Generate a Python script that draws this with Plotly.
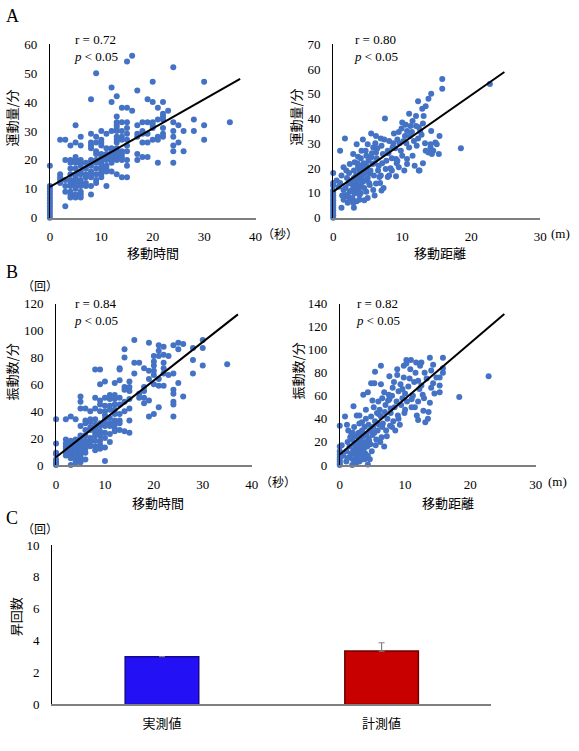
import plotly.graph_objects as go

W, H = 579, 751

# ---------------- DATA ----------------
# A left: movement time (s) vs exercise amount / min
a1_time = ([0]*13 + [2]*5 + [3]*6 + [4]*11 + [5]*14 + [6]*13 + [7]*6 + [8]*13 + [9]*11 + [10]*13
           + [11]*9 + [12]*10 + [13]*15 + [14]*10 + [15]*11 + [16]*2 + [17]*6 + [18]*5 + [19]*5
           + [20]*6 + [21]*5 + [22]*7 + [23]*1 + [24]*7 + [25]*2 + [26]*2 + [28]*2 + [30]*3 + [35]*1)
a1_amount = ([0, 1, 2, 3, 4, 5, 6, 7, 8, 9, 10, 11, 18]
             + [27, 15, 14, 13, 12]
             + [27, 20, 13, 11, 9, 4]
             + [25, 20, 19, 17, 15, 13, 12, 11, 9, 8, 7]
             + [32, 26, 21, 20, 19, 17, 15, 14, 13, 12, 11, 10, 8, 7]
             + [28, 25, 20, 19, 18, 16, 15, 13, 12, 11, 9, 8, 7]
             + [19, 17, 15, 14, 12, 11]
             + [41, 29, 26, 25, 24, 20, 19, 18, 16, 15, 14, 11, 8]
             + [50, 28, 26, 23, 22, 20, 19, 17, 15, 13, 12]
             + [30, 27, 26, 25, 22, 21, 20, 19, 18, 17, 16, 15, 14]
             + [29, 24, 22, 21, 20, 18, 17, 16, 11]
             + [45, 40, 30, 24, 23, 22, 21, 20, 19, 16]
             + [42, 35, 33, 32, 31, 30, 28, 27, 26, 24, 23, 22, 21, 20, 15]
             + [38, 33, 30, 28, 27, 23, 22, 21, 20, 14]
             + [54, 38, 33, 31, 29, 27, 25, 23, 20, 18, 14]
             + [56, 37]
             + [44, 32, 29, 28, 22, 20]
             + [33, 30, 29, 26, 21]
             + [41, 33, 29, 26, 21]
             + [47, 40, 33, 32, 31, 27]
             + [38, 34, 28, 27, 19]
             + [40, 36, 35, 34, 31, 29, 28]
             + [37]
             + [52, 33, 30, 28, 25, 23, 19]
             + [26, 32]
             + [30, 23]
             + [34, 30]
             + [47, 32, 27]
             + [33])
a1_trend_x = [0, 37]
a1_trend_y = [10.7, 48]

# A right: movement distance (m) vs exercise amount / min
a2_points = [
    (0, 0), (0, 1), (0, 2), (0, 3), (0, 4), (0, 5), (0, 6), (0, 7), (0, 8), (0, 9), (0, 10), (0, 11),
    (0, 13), (0, 14), (0, 18),
    (0.5, 15), (0.8, 12.5), (1.0, 27), (1.2, 4), (1.2, 17), (1.5, 7.2), (1.5, 11.2), (1.5, 20.4),
    (1.7, 32), (1.9, 9.2), (1.9, 19), (2.2, 8.5), (2.2, 13.8), (2.4, 7.2), (2.4, 10.5), (2.4, 21.7),
    (2.7, 15), (2.9, 5.9), (2.9, 12.5), (2.9, 25.7), (3.1, 9.9), (3.1, 22.4), (3.4, 6.6), (3.4, 13.8),
    (3.4, 29.6), (3.6, 11.2), (3.6, 20.4), (3.6, 24.6), (3.8, 7.2), (3.8, 9.2), (3.8, 18.4),
    (4.1, 12.5), (4.1, 27), (4.3, 14.5), (4.3, 19.7), (4.3, 31.6), (4.8, 10.5), (4.8, 21), (4.8, 25),
    (5.0, 29.6), (5.3, 13.2), (5.3, 17.8), (5.5, 24.3), (5.5, 34), (5.7, 21.7), (5.8, 11.2),
    (5.8, 28.3), (6.2, 13.8), (6.2, 26.3), (6.2, 33), (6.5, 19), (6.7, 16.4), (6.9, 17), (6.9, 32),
    (7.2, 25.7), (7.4, 31.6), (7.5, 40), (7.6, 19.7), (7.9, 16.4), (7.9, 27), (8.1, 17), (8.1, 31),
    (8.6, 28.3), (8.8, 34), (9.1, 16.7), (9.1, 23.7), (9.3, 31.6), (9.5, 20.4), (9.5, 34.6),
    (9.9, 36), (10.0, 25), (10.0, 38.4), (10.3, 19), (10.4, 33), (10.5, 37.5), (10.7, 21.7),
    (10.7, 23.7), (10.7, 35), (11.0, 28.3), (11.0, 42), (11.2, 37), (11.4, 34.6), (12.0, 37),
    (12.0, 41), (12.3, 32), (12.3, 47), (12.4, 19), (12.4, 36.5), (12.8, 33.5), (12.9, 44),
    (13.1, 41), (13.3, 30), (13.4, 27), (13.4, 45), (13.8, 26.3), (13.8, 48), (14.1, 28.3),
    (14.1, 29.6), (14.2, 50), (14.5, 27), (14.8, 30.3), (15.0, 29.6), (15.3, 25.7), (15.4, 33),
    (15.8, 52), (15.8, 56), (18.5, 28), (22.7, 54),
    (1.0, 14), (1.3, 9), (1.8, 12), (2.0, 16), (2.1, 6), (2.3, 18), (2.6, 11), (2.6, 14), (2.8, 8),
    (3.0, 16), (3.0, 19), (3.2, 12), (3.3, 17), (3.5, 15), (3.5, 22), (3.7, 13), (3.9, 16),
    (3.9, 21), (4.0, 10), (4.0, 24), (4.2, 17), (4.4, 22), (4.5, 12), (4.5, 15), (4.6, 18),
    (4.7, 27), (4.9, 20), (5.0, 16), (5.1, 23), (5.2, 14), (5.4, 19), (5.6, 26), (5.9, 17),
    (6.0, 22), (6.1, 30), (6.3, 24), (6.4, 28), (6.6, 21), (6.8, 14), (7.0, 29), (7.1, 22),
    (7.3, 12), (7.7, 23), (8.0, 26), (8.3, 20), (8.5, 24), (8.7, 30), (9.0, 28), (9.2, 22),
    (9.6, 30), (9.8, 27), (10.2, 31), (10.6, 30), (11.1, 33), (11.5, 25), (11.7, 31), (12.1, 29),
    (12.6, 35), (13.0, 38), (7.0, 11), (5.0, 8), (4.5, 7), (3.0, 4), (6.0, 9), (8.5, 19),
    (11.8, 21), (13.0, 22), (14.2, 35), (12.5, 19), (9.3, 23), (14.3, 25.7), (11.5, 39),
]
a2_trend_x = [0, 24.8]
a2_trend_y = [10.5, 58.8]

# B left: movement time (s) vs vibration count / min
b1_columns = [
    (0, [0, 1, 2, 4, 8, 9, 16, 34]),
    (2, [34, 19, 16, 14, 12, 9, 7]),
    (3, [36, 18, 16, 14, 12, 10, 7, 5, 0]),
    (4, [34, 19, 17, 15, 13, 11, 9, 6, 3, 1]),
    (5, [51, 47, 42, 29, 22, 20, 18, 16, 14, 12, 10, 8, 6, 4, 2]),
    (6, [42, 33, 31, 26, 22, 18, 15, 12, 9, 4]),
    (7, [40, 34, 32, 28, 26, 20, 17, 14]),
    (8, [71, 50, 42, 34, 30, 27, 24, 22, 18, 14, 11]),
    (9, [71, 60, 48, 45, 40, 31, 29, 25, 22, 18, 15, 12]),
    (10, [62, 50, 44, 40, 37, 34, 31, 29, 24, 20, 13, 3]),
    (11, [52, 49, 44, 41, 35, 31, 29, 23, 17]),
    (12, [61, 52, 49, 45, 41, 38, 33, 30, 27, 25]),
    (13, [72, 71, 63, 50, 45, 38, 33, 31, 26]),
    (14, [86, 80, 58, 56, 47, 40, 25]),
    (15, [62, 58, 55, 49, 42, 33, 24]),
    (16, [93, 76, 68]),
    (17, [76, 53, 50]),
    (18, [72, 58, 55, 50, 46]),
    (19, [91, 70, 64, 48, 36]),
    (20, [81, 77, 74, 70, 67, 60, 38]),
    (21, [89, 85, 81, 64, 59, 43]),
    (22, [88, 82, 76, 72, 68, 59]),
    (23, [81, 67]),
    (24, [89, 68, 56, 53, 47, 45, 36]),
    (25, [91, 86, 61]),
    (26, [90, 51]),
    (28, [87, 78, 68]),
    (30, [93, 87, 74]),
    (35, [75]),
]
b1_trend_x = [0, 37.2]
b1_trend_y = [5.8, 112]

# B right: movement distance (m) vs vibration count / min
b2_points = [
    (0, 0), (0, 1), (0, 3), (0, 5), (0, 7), (0, 9), (0, 12), (0, 16), (0, 34),
    (0.3, 17), (0.5, 8), (0.8, 42), (1.0, 3), (1.0, 12), (1.1, 35), (1.2, 20), (1.3, 30), (1.5, 7),
    (1.5, 16), (1.7, 10), (1.9, 0), (1.9, 22), (2.0, 5), (2.1, 51), (2.1, 13), (2.2, 18), (2.3, 2),
    (2.4, 9), (2.4, 25), (2.5, 15), (2.6, 11), (2.6, 43), (2.7, 6), (2.8, 20), (2.9, 13), (2.9, 28),
    (3.0, 3), (3.0, 16), (3.0, 43), (3.1, 9), (3.2, 22), (3.3, 12), (3.4, 18), (3.4, 30), (3.5, 5),
    (3.6, 61), (3.6, 25), (3.7, 14), (3.8, 33), (3.9, 10), (3.9, 20), (4.0, 40), (4.1, 27),
    (4.2, 16), (4.3, 0.5), (4.3, 8), (4.3, 63), (4.4, 35), (4.4, 23), (4.6, 5), (4.6, 30),
    (4.7, 18), (4.8, 71), (4.8, 42), (5.0, 26), (5.1, 33), (5.2, 50), (5.3, 71), (5.4, 81),
    (5.4, 38), (5.6, 22), (5.7, 45), (5.8, 30), (5.9, 55), (6.0, 35), (6.1, 48), (6.3, 86),
    (6.3, 70), (6.3, 42), (6.4, 24), (6.5, 58), (6.6, 36), (6.8, 16), (6.8, 63), (6.9, 46),
    (7.0, 52), (7.1, 30), (7.3, 40), (7.4, 56), (7.6, 57), (7.6, 77), (7.7, 34), (7.8, 45),
    (8.0, 60), (8.1, 67), (8.2, 38), (8.4, 50), (8.5, 30), (8.7, 55), (8.8, 83), (8.9, 43),
    (9.0, 64), (9.2, 35), (9.3, 70), (9.4, 52), (9.6, 58), (9.8, 76), (9.8, 86), (9.9, 45),
    (10.0, 62), (10.2, 88), (10.2, 91), (10.3, 55), (10.5, 68), (10.7, 75), (10.9, 91), (11.0, 50),
    (11.2, 60), (11.4, 72), (11.6, 80), (11.8, 43), (12.0, 55), (12.2, 66), (12.3, 86), (12.5, 69),
    (12.5, 89), (12.8, 47), (12.9, 58), (13.1, 37), (13.3, 75), (13.6, 46), (13.8, 54), (13.8, 93),
    (14.0, 67), (14.3, 71), (14.3, 87), (14.5, 62), (14.8, 76), (15.3, 63), (15.3, 69), (15.3, 76),
    (15.8, 80), (15.8, 84), (15.8, 93), (18.3, 59), (22.8, 77),
    (1.8, 27), (2.2, 33), (3.4, 37), (4.9, 12), (5.5, 17), (6.2, 20), (7.2, 25), (8.0, 33),
    (9.0, 40), (10.0, 48), (11.0, 57), (12.0, 73), (13.0, 80), (14.0, 82), (6.5, 33), (7.8, 49),
    (8.3, 72), (9.6, 66), (10.8, 83), (11.7, 89), (5.0, 56), (4.0, 48), (3.0, 36), (2.0, 28),
    (5.3, 28), (6.0, 44), (7.5, 61), (8.8, 78), (11.5, 50), (12.7, 61), (13.5, 40), (12.0, 39),
    (1.2, 6), (2.5, 2), (3.6, 9), (2.0, 11), (1.6, 24), (3.2, 26), (4.5, 21), (3.8, 5),
]
b2_trend_x = [0, 25.2]
b2_trend_y = [9, 131]

# C: ascent count
c_categories = ["実測値", "計測値"]
c_values = [3.0, 3.35]
c_err_plus = [0.0, 0.52]

# ---------------- FIGURE ----------------
SERIF = "Liberation Serif"
JP = "Noto Sans CJK JP"
DOT = "#4472C4"


def fx(px):
    return px / W


def fy(py):
    return 1 - py / H


fig = go.Figure()


def scatter_panel(xs, ys, tx, ty, ax):
    fig.add_trace(go.Scatter(x=xs, y=ys, mode="markers", xaxis="x" + ax, yaxis="y" + ax,
                             marker=dict(color=DOT, size=6, line=dict(width=0)),
                             cliponaxis=False, showlegend=False, hoverinfo="skip"))
    fig.add_trace(go.Scatter(x=tx, y=ty, mode="lines", xaxis="x" + ax, yaxis="y" + ax,
                             line=dict(color="black", width=2), cliponaxis=False,
                             showlegend=False, hoverinfo="skip"))


scatter_panel(a1_time, a1_amount, a1_trend_x, a1_trend_y, "")
scatter_panel([p[0] for p in a2_points], [p[1] for p in a2_points], a2_trend_x, a2_trend_y, "2")
b1_x = [c[0] for c in b1_columns for _ in c[1]]
b1_y = [v for c in b1_columns for v in c[1]]
scatter_panel(b1_x, b1_y, b1_trend_x, b1_trend_y, "3")
scatter_panel([p[0] for p in b2_points], [p[1] for p in b2_points], b2_trend_x, b2_trend_y, "4")

fig.add_trace(go.Bar(
    x=[0, 1], y=c_values, xaxis="x5", yaxis="y5", width=0.335,
    marker=dict(color=["#2410f4", "#c80000"], line=dict(color=["#140a90", "#6e0000"], width=1.5)),
    error_y=dict(type="data", symmetric=False, array=c_err_plus, arrayminus=[0, 0],
                 color="#808080", thickness=1.2, width=3),
    showlegend=False, hoverinfo="skip"))

tickfont = dict(family=SERIF, size=13, color="black")


def xaxis(dom, rng, dtick, anchor):
    return dict(domain=dom, range=rng, dtick=dtick, tick0=0, anchor=anchor, showgrid=False,
                zeroline=False, showline=True, linecolor="#7f7f7f", linewidth=2,
                ticks="", tickfont=tickfont, ticklabelstandoff=6, fixedrange=True)


def yaxis(dom, rng, dtick, anchor):
    return dict(domain=dom, range=rng, dtick=dtick, tick0=0, anchor=anchor, showgrid=False,
                zeroline=False, showline=True, linecolor="black", linewidth=1,
                ticks="", tickfont=tickfont, ticklabelstandoff=9, fixedrange=True)


yA = [fy(215), fy(38)]
yB = [fy(467.3), fy(302.7)]
fig.update_layout(
    width=W, height=H, margin=dict(l=0, r=0, t=0, b=0),
    paper_bgcolor="white", plot_bgcolor="white",
    xaxis=xaxis([fx(47.7), fx(257)], [0, 40], 10, "y"),
    yaxis=yaxis(yA, [0, 60], 10, "x"),
    xaxis2=xaxis([fx(336), fx(546.7)], [0, 30], 10, "y2"),
    yaxis2=yaxis(yA, [0, 70], 10, "x2"),
    xaxis3=xaxis([fx(54), fx(253)], [0, 40], 10, "y3"),
    yaxis3=yaxis(yB, [0, 120], 20, "x3"),
    xaxis4=xaxis([fx(342.7), fx(542)], [0, 30], 10, "y4"),
    yaxis4=yaxis(yB, [0, 140], 20, "x4"),
    xaxis5=dict(domain=[fx(50), fx(497)], range=[-0.5, 1.5], anchor="y5", showgrid=False,
                zeroline=False, showline=True, linecolor="#7f7f7f", linewidth=2, ticks="",
                tickvals=[0, 1], ticktext=c_categories,
                tickfont=dict(family=JP, size=13, color="black"), ticklabelstandoff=6,
                fixedrange=True),
    yaxis5=yaxis([fy(711.7), fy(549)], [0, 10], 2, "x5"),
)


def ann(text, px, py, size=13, xanchor="center", angle=0, family=SERIF):
    fig.add_annotation(text=text, x=fx(px), y=fy(py), xref="paper", yref="paper",
                       xanchor=xanchor, yanchor="middle", showarrow=False, textangle=angle,
                       font=dict(family=family, size=size, color="black"))


# panel letters
ann("A", 1, 9, size=18, xanchor="left")
ann("B", 1, 270, size=18, xanchor="left")
ann("C", 1, 521, size=18, xanchor="left")

# statistics
for (px, py, r) in [(71, 33, "0.72"), (356, 33, "0.80"), (71, 303, "0.84"), (358, 303, "0.82")]:
    ann("r = " + r, px, py, xanchor="left")
    ann("<i>p</i> < 0.05", px - 1, py + 17, xanchor="left")

# axis titles
ann("運動量/分", 9, 113, angle=-90, family=JP)
ann("運動量/分", 298, 112, angle=-90, family=JP)
ann("振動数/分", 9, 372, angle=-90, family=JP)
ann("振動数/分", 300, 371, angle=-90, family=JP)
ann("昇回数", 13, 622, angle=-90, family=JP)
ann("移動時間", 153, 250, family=JP)
ann("移動距離", 445, 250, family=JP)
ann("移動時間", 158, 506, family=JP)
ann("移動距離", 453, 506, family=JP)

# units
ann("（秒）", 262, 231, xanchor="left", family=JP, size=12)
ann("(m)", 556, 231, xanchor="left")
ann("（秒）", 259, 484, xanchor="left", family=JP, size=12)
ann("(m)", 553, 484, xanchor="left")
ann("（回）", 38, 284, family=JP, size=12)
ann("（回）", 38, 532, family=JP, size=12)

fig.write_html("out.html")
